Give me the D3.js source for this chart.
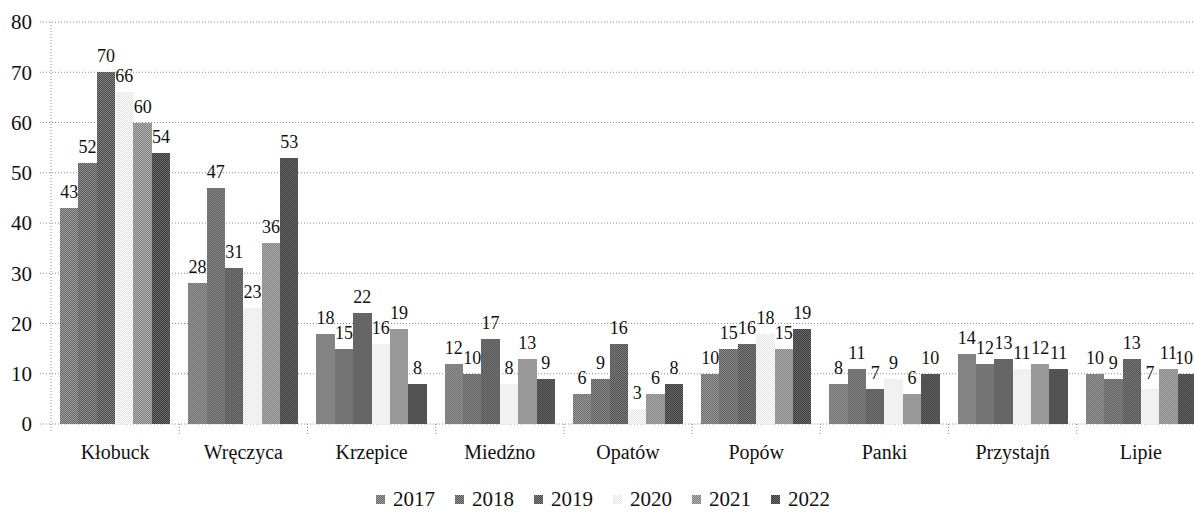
<!DOCTYPE html>
<html lang="pl">
<head>
<meta charset="UTF-8">
<title>Gminy 2017-2022</title>
<script src="https://d3js.org/d3.v7.min.js"></script>
<style>
    body { margin: 0; background: #fff; }
    svg text { fill: #111; }
</style>
</head>
<body>
<svg id="chart" width="1194" height="518" font-family="'Liberation Serif', 'Times New Roman', Times, 'DejaVu Serif', serif"></svg>
<script>

// data
const categories = ['Kłobuck', 'Wręczyca', 'Krzepice', 'Miedźno', 'Opatów', 'Popów', 'Panki', 'Przystajń', 'Lipie'];
const years = ['2017', '2018', '2019', '2020', '2021', '2022'];
const v2017 = [43, 28, 18, 12, 6, 10, 8, 14, 10];
const v2018 = [52, 47, 15, 10, 9, 15, 11, 12, 9];
const v2019 = [70, 31, 22, 17, 16, 16, 7, 13, 13];
const v2020 = [66, 23, 16, 8, 3, 18, 9, 11, 7];
const v2021 = [60, 36, 19, 13, 6, 15, 6, 12, 11];
const v2022 = [54, 53, 8, 9, 8, 19, 10, 11, 10];
const yTicks = [0, 10, 20, 30, 40, 50, 60, 70, 80];

const series = [v2017, v2018, v2019, v2020, v2021, v2022];
const rows = categories.map((c, i) => ({ cat: c, vals: years.map((y, j) => ({ year: y, value: series[j][i] })) }));

// grey tones (scan-like, dithered)
const tones = {
    '2017': ['#666666', '#a0a0a0'],
    '2018': ['#555555', '#939393'],
    '2019': ['#464646', '#858585'],
    '2020': ['#e2e2e2', '#ffffff'],
    '2021': ['#7c7c7c', '#b4b4b4'],
    '2022': ['#363636', '#707070']
};

const W = 1194;
const svg = d3.select('#chart');
const defs = svg.append('defs');
years.forEach(y => {
    const p = defs.append('pattern')
        .attr('id', 'pat' + y)
        .attr('width', 2).attr('height', 2)
        .attr('patternUnits', 'userSpaceOnUse');
    p.append('rect').attr('width', 2).attr('height', 2).attr('fill', tones[y][1]);
    p.append('rect').attr('x', 0).attr('y', 0).attr('width', 1).attr('height', 1).attr('fill', tones[y][0]);
    p.append('rect').attr('x', 1).attr('y', 1).attr('width', 1).attr('height', 1).attr('fill', tones[y][0]);
});

// scales
const x0 = d3.scaleBand().domain(categories).range([51, 1205]);
const x1 = d3.scaleBand().domain(years).range([9, x0.bandwidth() - 9]);
const y = d3.scaleLinear().domain([0, 80]).range([424, 22]);

// gridlines
svg.append('g')
    .selectAll('line')
    .data(yTicks)
    .join('line')
    .attr('x1', 40).attr('x2', W)
    .attr('y1', d => y(d)).attr('y2', d => y(d))
    .attr('stroke', '#8a8a8a')
    .attr('stroke-width', 1)
    .attr('stroke-dasharray', '1,2');

// y axis
svg.append('line')
    .attr('x1', 51).attr('x2', 51)
    .attr('y1', y(80)).attr('y2', 432)
    .attr('stroke', '#8a8a8a')
    .attr('stroke-dasharray', '1,2');

svg.append('g')
    .selectAll('text')
    .data(yTicks)
    .join('text')
    .attr('x', 32)
    .attr('y', d => y(d))
    .attr('dy', '0.35em')
    .attr('text-anchor', 'end')
    .style('font-size', '21px')
    .text(d => d);

// category ticks
svg.append('g')
    .selectAll('line')
    .data(categories.slice(1))
    .join('line')
    .attr('x1', d => x0(d)).attr('x2', d => x0(d))
    .attr('y1', 424).attr('y2', 434)
    .attr('stroke', '#8a8a8a')
    .attr('stroke-dasharray', '1,2');

// bars
const groups = svg.append('g')
    .selectAll('g')
    .data(rows)
    .join('g')
    .attr('transform', d => `translate(${x0(d.cat)},0)`);

groups.selectAll('rect')
    .data(d => d.vals)
    .join('rect')
    .attr('x', d => x1(d.year))
    .attr('y', d => y(d.value))
    .attr('width', x1.bandwidth())
    .attr('height', d => y(0) - y(d.value))
    .attr('fill', d => `url(#pat${d.year})`)
    .attr('shape-rendering', 'crispEdges');

groups.selectAll('text')
    .data(d => d.vals)
    .join('text')
    .attr('x', d => x1(d.year) + x1.bandwidth() / 2)
    .attr('y', d => y(d.value) - 10)
    .attr('text-anchor', 'middle')
    .style('font-size', '18px')
    .text(d => d.value);

// keep labels at the right edge inside the picture
groups.selectAll('text').each(function () {
    const b = this.getBBox();
    const tx = this.getCTM().e;
    if (tx + b.x + b.width > W - 1) {
        d3.select(this).attr('text-anchor', 'end').attr('x', W - 1 - tx);
    }
});

// category labels
svg.append('g')
    .selectAll('text')
    .data(categories)
    .join('text')
    .attr('x', d => x0(d) + x0.bandwidth() / 2)
    .attr('y', 459)
    .attr('text-anchor', 'middle')
    .style('font-size', '20px')
    .text(d => d);

// legend
const legend = svg.append('g')
    .selectAll('g')
    .data(years)
    .join('g')
    .attr('transform', (d, i) => `translate(${393 + i * 79},0)`);

legend.append('rect')
    .attr('x', -17).attr('y', 495)
    .attr('width', 9).attr('height', 9)
    .attr('fill', d => `url(#pat${d})`);

legend.append('text')
    .attr('x', 0).attr('y', 506)
    .style('font-size', '21px')
    .text(d => d);

</script>
</body>
</html>
